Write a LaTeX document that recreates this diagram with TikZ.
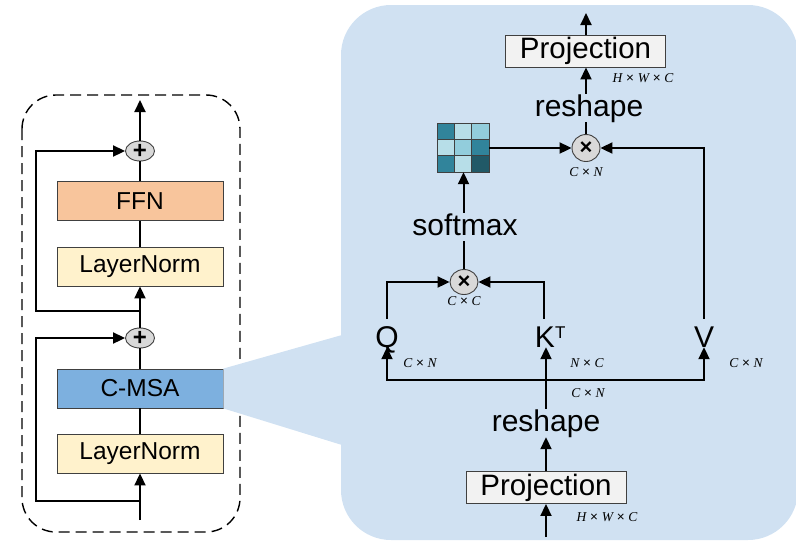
\documentclass[tikz,border=0pt]{standalone}
\usepackage{fontspec}
\setmainfont{Liberation Sans}
\newfontfamily\dimfont{Liberation Serif}
\usetikzlibrary{arrows.meta,shapes.geometric,calc}

\definecolor{panelblue}{RGB}{208,225,242}
\definecolor{ffnfill}{RGB}{248,197,156}
\definecolor{lnfill}{RGB}{255,242,204}
\definecolor{msafill}{RGB}{125,176,223}
\definecolor{projfill}{RGB}{242,242,242}
\definecolor{opfill}{RGB}{217,217,217}
\definecolor{edgegray}{RGB}{64,64,64}
\definecolor{tealdark}{RGB}{49,132,155}
\definecolor{teallight}{RGB}{183,222,232}
\definecolor{tealmid}{RGB}{146,205,220}
\definecolor{tealdeep}{RGB}{33,89,103}

\newcommand{\dims}[1]{{\dimfont\itshape #1}}

\begin{document}
\begin{tikzpicture}[x=1pt,y=-1pt,
  conn/.style={line width=2pt,draw=black},
  arr/.style={conn,-{Triangle[length=12pt,width=11pt]}},
  blk/.style={draw=edgegray,line width=0.9pt,minimum width=166pt,minimum height=39pt,
    inner sep=0pt,font=\fontsize{24.5}{24.5}\selectfont},
  projbox/.style={draw=edgegray,line width=0.9pt,fill=projfill,minimum width=160pt,
    minimum height=32pt,inner sep=0pt,font=\fontsize{29.5}{29.5}\selectfont},
  bigtext/.style={inner sep=0pt,text height=22pt,text depth=6pt,
    font=\fontsize{30}{30}\selectfont},
  qkv/.style={inner sep=0pt,text height=23pt,text depth=0pt,
    font=\fontsize{30}{30}\selectfont},
  addop/.style={ellipse,draw=edgegray,line width=0.9pt,fill=opfill,inner sep=0pt,
    minimum width=29pt,minimum height=20pt,font=\fontsize{24}{24}\bfseries},
  mulop/.style={ellipse,draw=edgegray,line width=0.9pt,fill=opfill,inner sep=0pt,
    minimum width=28pt,minimum height=27pt,font=\fontsize{22}{22}\bfseries},
  dimlbl/.style={inner sep=0pt,text=black,font=\fontsize{13.5}{13.5}\selectfont}
]
\useasboundingbox (0,0) rectangle (796,542);

% ---------- encoder block (left) ----------
\draw[dash pattern=on 11pt off 6pt,line width=1.4pt,rounded corners=34pt]
  (22,95) rectangle (240,532);

\node[blk,fill=ffnfill] (ffn) at (140,201) {FFN};
\node[blk,fill=lnfill]  (ln1) at (140,266.5) {LayerNorm};
\node[blk,fill=msafill] (msa) at (140,388.5) {C-MSA};
\node[blk,fill=lnfill]  (ln2) at (140,453.5) {LayerNorm};
\node[addop] (add1) at (140,151) {+};
\node[addop] (add2) at (140,338) {+};

\coordinate (inL)  at (140,520);
\coordinate (outL) at (140,100);
\coordinate (res1) at (140,501);
\coordinate (res2) at (140,311);

% ---------- attention detail (right) ----------
\fill[panelblue] (msa.north east) -- (342,335) -- (342,445) -- (msa.south east) -- cycle;
\fill[panelblue,rounded corners=50pt] (341,5) rectangle (798,540);

\node[projbox] (projT) at (585.5,51) {Projection};
\node[projbox] (projB) at (546,487.5) {Projection};
\node[bigtext] (rshT) at (589,108) {reshape};
\node[bigtext] (rshB) at (546,423) {reshape};
\node[bigtext] (soft) at (465,227) {softmax};
\node[mulop] (mul1) at (586,148) {×};
\node[mulop,minimum height=25pt] (mul2) at (464,282) {×};
\node[qkv] (Q) at (387,335.5) {Q};
\node[qkv] (K) at (545,335.5) {K\rlap{\raisebox{9pt}{\fontsize{17}{17}\selectfont T}}};
\node[qkv] (V) at (704,335.5) {V};

% attention map
\node[inner sep=0pt,minimum width=51pt,minimum height=48pt] (att) at (463.5,148) {};
\foreach \r/\cols in {0/{tealdark,teallight,tealmid},1/{teallight,tealmid,tealdark},2/{tealdark,teallight,tealdeep}}{
  \foreach \c [count=\i from 0] in \cols {
    \fill[\c] ($(att.north west)+(\i*17,\r*16)$) rectangle +(17,16);
  }
}
\foreach \i in {1,2}{
  \draw[line width=0.9pt,edgegray] ($(att.north west)+(\i*17,0)$) -- +(0,48);
  \draw[line width=0.9pt,edgegray] ($(att.north west)+(0,\i*16)$) -- +(51,0);
}
\draw[line width=0.9pt,edgegray] (att.north west) rectangle (att.south east);

\coordinate (inR)  at (546,537);
\coordinate (outR) at (586,13);
\coordinate (hub)  at (546,380);

% dimension labels
\node[dimlbl] at (643,78)  {\dims{H} × \dims{W} × \dims{C}};
\node[dimlbl] at (586,172) {\dims{C} × \dims{N}};
\node[dimlbl] at (464,301) {\dims{C} × \dims{C}};
\node[dimlbl] at (420,363) {\dims{C} × \dims{N}};
\node[dimlbl] at (587,363) {\dims{N} × \dims{C}};
\node[dimlbl] at (746,363) {\dims{C} × \dims{N}};
\node[dimlbl] at (588,393) {\dims{C} × \dims{N}};
\node[dimlbl] at (607,517) {\dims{H} × \dims{W} × \dims{C}};

% ---------- connectors: left ----------
\draw[arr] (inL) -- (ln2);
\draw[arr] (res1) -- (36,501) -- (36,338) -- (add2);
\draw[conn] (ln2) -- (msa);
\draw[conn] (msa) -- (add2);
\draw[arr] (add2) -- (ln1);
\draw[arr] (res2) -- (36,311) -- (36,151) -- (add1);
\draw[conn] (ln1) -- (ffn);
\draw[conn] (ffn) -- (add1);
\draw[arr] (add1) -- (outL);

% ---------- connectors: right ----------
\draw[arr] (inR) -- (projB);
\draw[arr] (projB) -- (rshB);
\draw[arr] (rshB.north) -- (rshB.north |- K.south);
\draw[arr] (hub) -| (Q.south);
\draw[arr] (hub) -| (V.south);
\draw[arr,shorten <=5pt] (Q.north) |- (mul2.west);
\draw[arr,shorten <=5pt] ($(K.north)+(-1,0)$) |- (mul2.east);
\draw[arr,shorten <=5pt] (V.north) |- (mul1.east);
\draw[conn] (mul2.north) -- (mul2.north |- soft.south);
\draw[arr] (soft.north -| att.south) -- (att.south);
\draw[arr] (att.east) -- (mul1.west);
\draw[conn] (mul1.north) -- (mul1.north |- rshT.south);
\draw[arr] (mul1.north |- rshT.north) -- (projT.south -| mul1.north);
\draw[arr] (projT.north -| outR) -- (outR);
\end{tikzpicture}
\end{document}
